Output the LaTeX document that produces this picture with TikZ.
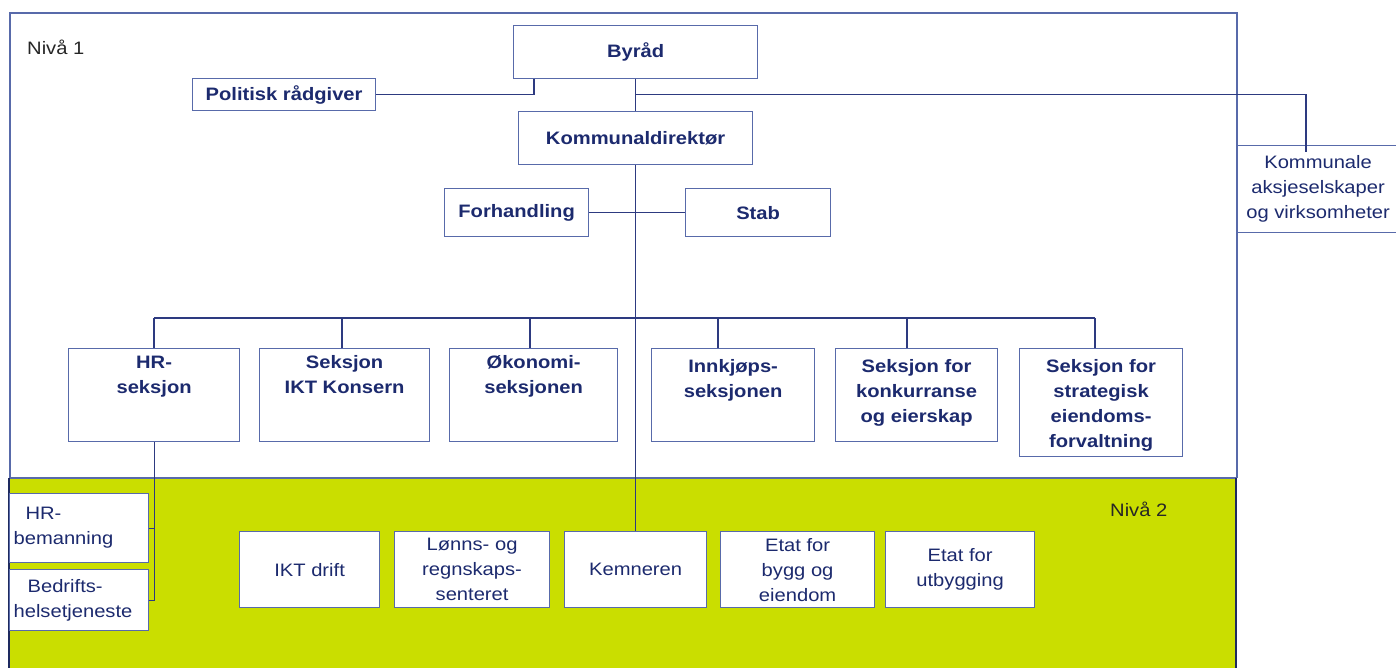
\documentclass[tikz,border=0pt]{standalone}
\usepackage{fontspec}
\setmainfont{Liberation Sans}[FakeStretch=1.12]
\usepackage{tikz}
\usetikzlibrary{positioning,calc}
\usepackage{xcolor}

\definecolor{orgline}{RGB}{45,58,128}
\definecolor{orgbox}{RGB}{88,106,170}
\definecolor{orgtext}{RGB}{28,42,110}
\definecolor{nivagreen}{RGB}{202,222,0}
\definecolor{nivaedge}{RGB}{30,42,95}

\tikzset{
  unit/.style={draw=orgbox, line width=1.2pt, fill=white, inner sep=0pt,
    anchor=north west, align=center, text=orgtext,
    font=\fontsize{18}{25}\selectfont\bfseries},
  etat/.style={unit, font=\fontsize{18}{25}\selectfont},
  toplbl/.style={anchor=north, inner sep=0pt, align=center, text=orgtext,
    font=\fontsize{18}{25}\selectfont\bfseries},
  conn/.style={draw=orgline, line width=1.2pt},
  nivalbl/.style={anchor=west, inner sep=0pt, text=black!85,
    font=\fontsize{18}{25}\selectfont},
}

\begin{document}
\begin{tikzpicture}[x=1pt, y=-1pt]
  \useasboundingbox (0,0) rectangle (1396,668);
  % level 1 frame and level 2 band
  \draw[orgbox, line width=1.2pt] (10,478) -- (10,13) -- (1237,13) -- (1237,478);
  \fill[nivagreen] (9,478) rectangle (1236,668);
  \draw[orgbox, line width=1.4pt] (9,478) -- (1236,478);
  \draw[nivaedge, line width=1.8pt] (9,668) -- (9,478);
  \draw[nivaedge, line width=1.8pt] (1236,478) -- (1236,668);
  \node[nivalbl] (niva1) at (27,47) {Nivå 1};
  \node[nivalbl] (niva2) at (1110,509) {Nivå 2};

  % top
  \node[unit, minimum width=244pt, minimum height=53pt] (byraad) at (513,25) {Byråd};
  \node[unit, minimum width=183pt, minimum height=32pt] (pol) at (192,78) {Politisk rådgiver};
  \node[unit, minimum width=234pt, minimum height=53pt] (kdir) at (518,111) {Kommunaldirektør};
  \node[unit, minimum width=144pt, minimum height=48pt] (forh) at (444,188) {Forhandling};
  \node[unit, minimum width=145pt, minimum height=48pt] (stab) at (685,188) {Stab};
  \node[etat, minimum width=161pt, minimum height=87pt] (komm) at (1237,145)
    {Kommunale\\aksjeselskaper\\og virksomheter};

  % sections, level 1
  \node[unit, minimum width=171pt, minimum height=93pt,
    label={[toplbl, yshift=-7.5pt]north:{HR-\\seksjon}}] (hrs) at (68,348) {};
  \node[unit, minimum width=170pt, minimum height=93pt,
    label={[toplbl, yshift=-7.5pt]north:{Seksjon\\IKT Konsern}}] (iktk) at (259,348) {};
  \node[unit, minimum width=168pt, minimum height=93pt,
    label={[toplbl, yshift=-7.5pt]north:{Økonomi-\\seksjonen}}] (oko) at (449,348) {};
  \node[unit, minimum width=163pt, minimum height=93pt,
    label={[toplbl, yshift=-11.5pt]north:{Innkjøps-\\seksjonen}}] (innk) at (651,348) {};
  \node[unit, minimum width=162pt, minimum height=93pt,
    label={[toplbl, yshift=-11.5pt]north:{Seksjon for\\konkurranse\\og eierskap}}] (konk) at (835,348) {};
  \node[unit, minimum width=163pt, minimum height=108pt,
    label={[toplbl, yshift=-11.5pt]north:{Seksjon for\\strategisk\\eiendoms-\\forvaltning}}] (strat) at (1019,348) {};

  % level 2
  \node[etat, minimum width=139pt, minimum height=69pt, text width=131pt, align=left]
    (hrb) at (9,493) {\hspace*{12pt}HR-\\bemanning};
  \node[etat, minimum width=139pt, minimum height=61pt, text width=131pt, align=left]
    (bht) at (9,569) {\hspace*{14pt}Bedrifts-\\helsetjeneste};
  \node[etat, minimum width=140pt, minimum height=76pt] (iktd) at (239,531) {IKT drift};
  \node[etat, minimum width=155pt, minimum height=76pt] (lonn) at (394,531) {Lønns- og\\regnskaps-\\senteret};
  \node[etat, minimum width=142pt, minimum height=76pt] (kemn) at (564,531) {Kemneren};
  \node[etat, minimum width=154pt, minimum height=76pt] (bygg) at (720,531) {Etat for\\bygg og\\eiendom};
  \node[etat, minimum width=149pt, minimum height=76pt] (utb) at (885,531) {Etat for\\utbygging};

  % connectors
  \coordinate (kommtap) at (1306,152);
  \draw[conn] (pol.east) -| ($(byraad.south west)+(21,0)$);
  \draw[conn] (byraad.south) -- (kdir.north);
  \draw[conn] (byraad.south) ++(0,15) -| (kommtap);
  \draw[conn] (forh.east) -- (stab.west);
  \draw[conn] (kdir.south) -- (kemn.north);
  \draw[conn] (154,318) -- (1095,318);
  \foreach \n/\x in {hrs/154,iktk/342,oko/530,innk/718,konk/907,strat/1095}
    \draw[conn] (\x,318) -- (\n.north -| \x,318);
  \draw[conn] (hrs.south) |- (bht.east);
  \draw[conn] (hrb.east) -- (hrb.east -| hrs.south);
\end{tikzpicture}
\end{document}
